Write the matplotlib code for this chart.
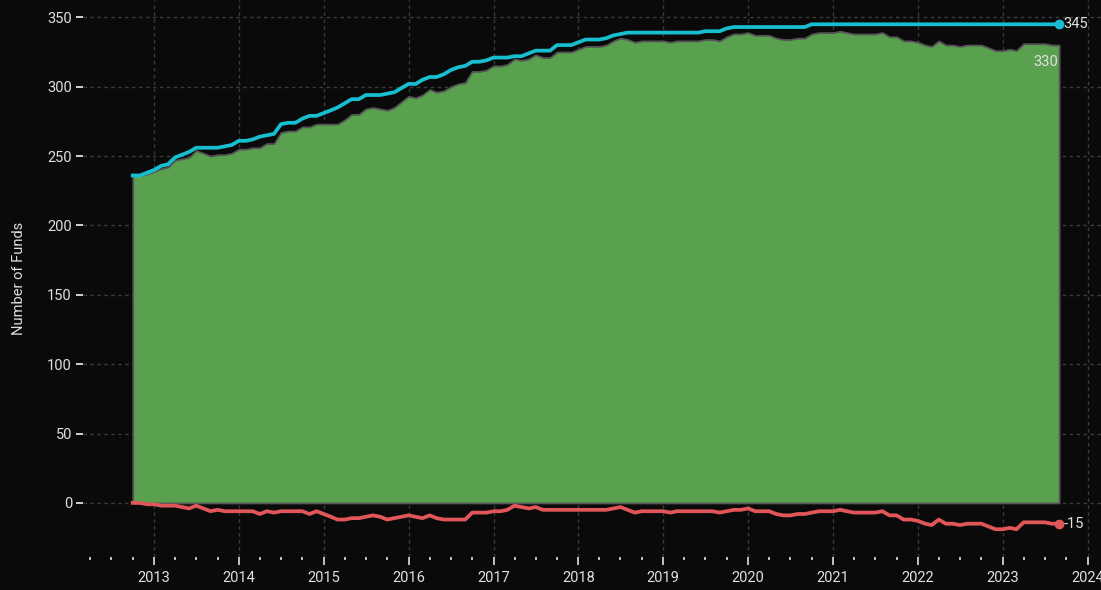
import pandas as pd
import matplotlib.pyplot as plt
import matplotlib.dates as mdates

# monthly fund counts, Oct 2012 .. Sep 2023
months = pd.date_range("2012-10-01", periods=132, freq="MS")

launched = [
    236, 236, 238, 240, 243, 244, 249, 251, 253, 256, 256, 256,
    256, 257, 258, 261, 261, 262, 264, 265, 266, 273, 274, 274,
    277, 279, 279, 281, 283, 285, 288, 291, 291, 294, 294, 294,
    295, 296, 299, 302, 302, 305, 307, 307, 309, 312, 314, 315,
    318, 318, 319, 321, 321, 321, 322, 322, 324, 326, 326, 326,
    330, 330, 330, 332, 334, 334, 334, 335, 337, 338, 339, 339,
    339, 339, 339, 339, 339, 339, 339, 339, 339, 340, 340, 340,
    342, 343, 343, 343, 343, 343, 343, 343, 343, 343, 343, 343,
    345, 345, 345, 345, 345, 345, 345, 345, 345, 345, 345, 345,
    345, 345, 345, 345, 345, 345, 345, 345, 345, 345, 345, 345,
    345, 345, 345, 345, 345, 345, 345, 345, 345, 345, 345, 345,
]

closed = [
    0, 0, -1, -1, -2, -2, -2, -3, -4, -2, -4, -6,
    -5, -6, -6, -6, -6, -6, -8, -6, -7, -6, -6, -6,
    -6, -8, -6, -8, -10, -12, -12, -11, -11, -10, -9, -10,
    -12, -11, -10, -9, -10, -11, -9, -11, -12, -12, -12, -12,
    -7, -7, -7, -6, -6, -5, -2, -3, -4, -3, -5, -5,
    -5, -5, -5, -5, -5, -5, -5, -5, -4, -3, -5, -7,
    -6, -6, -6, -6, -7, -6, -6, -6, -6, -6, -6, -7,
    -6, -5, -5, -4, -6, -6, -6, -8, -9, -9, -8, -8,
    -7, -6, -6, -6, -5, -6, -7, -7, -7, -7, -6, -9,
    -9, -12, -12, -13, -15, -16, -12, -15, -15, -16, -15, -15,
    -15, -17, -19, -19, -18, -19, -14, -14, -14, -14, -15, -15,
]

active = [l + c for l, c in zip(launched, closed)]

bg = "#0a0a0a"
fg = "#e0e0e0"

plt.rcParams["font.family"] = ["Roboto", "DejaVu Sans"]

fig = plt.figure(figsize=(11.01, 5.90), dpi=100, facecolor=bg)
ax = fig.add_axes([83 / 1101, 33 / 590, 1018 / 1101, 557 / 590])
ax.set_facecolor(bg)

ax.fill_between(months, 0, active, facecolor="#59a14f", edgecolor="#555555",
                linewidth=1.3, zorder=2)
ax.plot(months, launched, color="#17becf", linewidth=2.7, zorder=3)
ax.plot(months, closed, color="#e15759", linewidth=2.7, zorder=3)
ax.plot(months[-1], launched[-1], "o", color="#17becf", markersize=6, zorder=4)
ax.plot(months[-1], closed[-1], "o", color="#e15759", markersize=6, zorder=4)

ax.annotate(str(launched[-1]), (months[-1], launched[-1]), xytext=(3, 0),
            textcoords="offset points", ha="left", va="center", color=fg, fontsize=10.5)
ax.annotate(str(active[-1]), (months[-1], active[-1]), xytext=(-1, -12),
            textcoords="offset points", ha="right", va="center", color=fg, fontsize=10.5)
ax.annotate(str(closed[-1]), (months[-1], closed[-1]), xytext=(3, 0),
            textcoords="offset points", ha="left", va="center", color=fg, fontsize=10.5)

ax.set_xlim(pd.Timestamp("2012-03-01"), pd.Timestamp("2024-02-28"))
ax.set_ylim(-39, 362.5)
ax.set_yticks(range(0, 351, 50))

ax.xaxis.set_major_locator(mdates.YearLocator())
ax.xaxis.set_major_formatter(mdates.DateFormatter("%Y"))
ax.xaxis.set_minor_locator(mdates.MonthLocator(bymonth=[4, 7, 10]))

ax.grid(True, which="major", color="#3c3c3c", linestyle=(0, (2.5, 2.5)), linewidth=1)
ax.set_axisbelow(True)

for s in ax.spines.values():
    s.set_visible(False)

ax.tick_params(axis="y", colors=fg, labelsize=10.5, length=5, width=1.3, pad=3)
ax.tick_params(axis="x", which="major", colors=fg, labelsize=10.5, length=6, width=1.2, pad=4)
ax.tick_params(axis="x", which="minor", colors=fg, length=2, width=1.2)

ax.set_ylabel("Number of Funds", color=fg, fontsize=10.5, labelpad=15)

fig.savefig("out.png", dpi=100, facecolor=bg)
